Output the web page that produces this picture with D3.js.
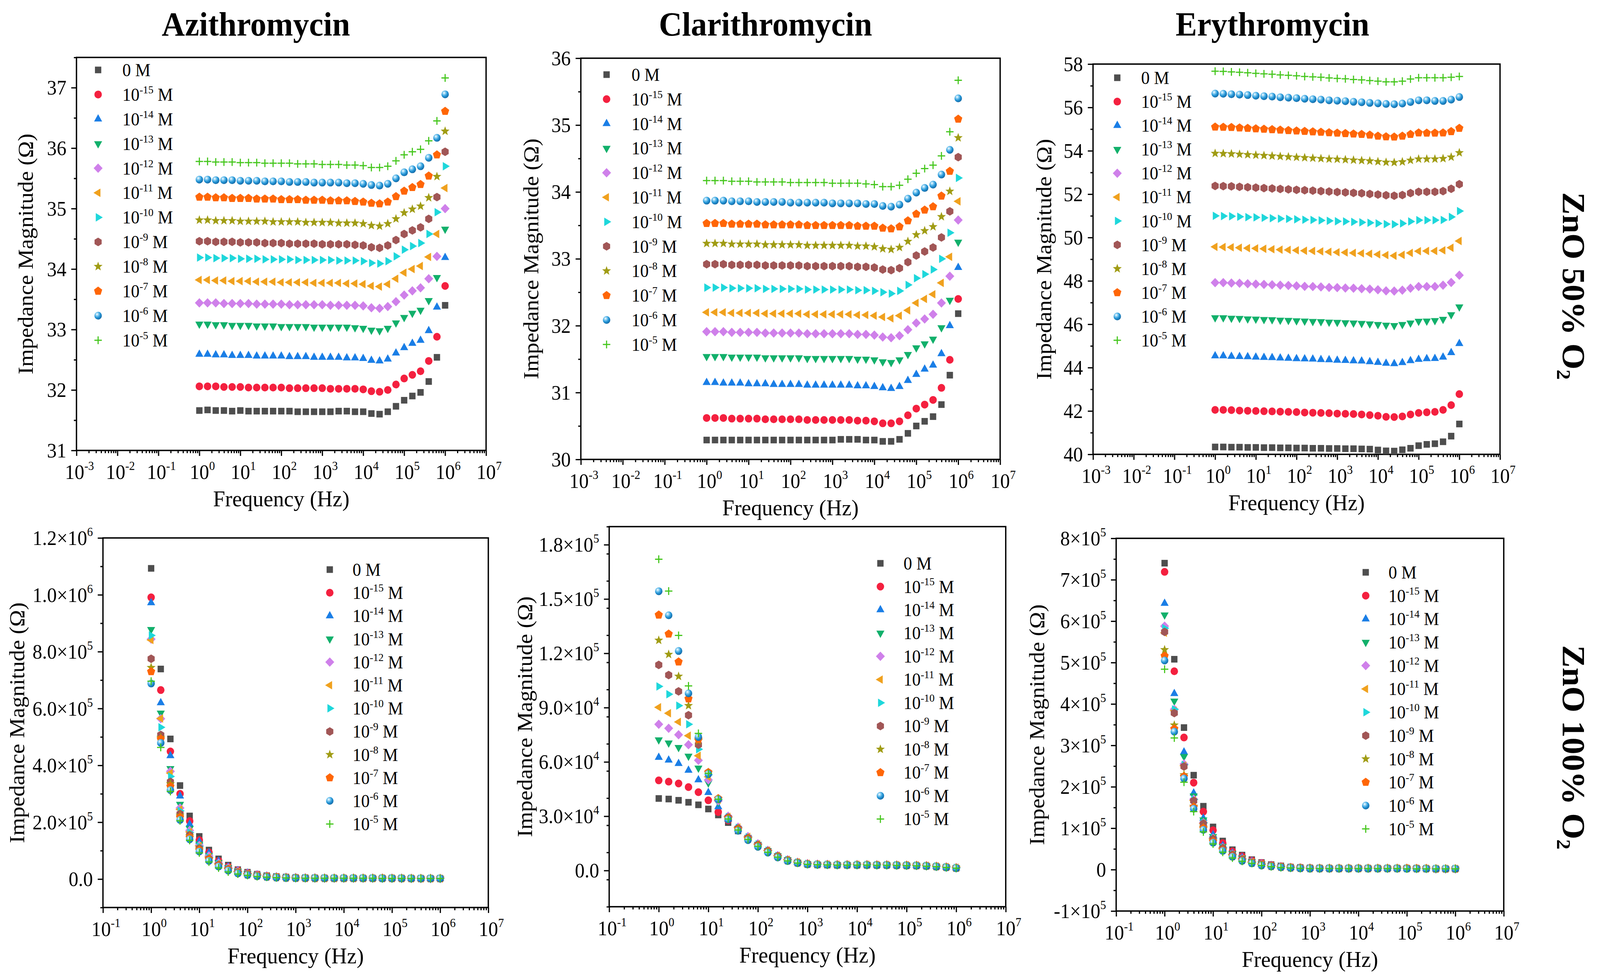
<!DOCTYPE html>
<html><head><meta charset="utf-8">
<script src="https://cdn.jsdelivr.net/npm/d3@7/dist/d3.min.js"></script>
<style>
html,body{margin:0;padding:0;background:#fff;overflow:hidden;width:100%;height:100%}
svg{display:block;width:100vw;height:100vh}
text{font-family:"Liberation Serif","Times New Roman",serif;fill:#000}
</style></head>
<body>
<svg id="chart" viewBox="0 0 4289 2506" preserveAspectRatio="none"></svg>
<script>
// ---------------- DATA ----------------
const freq = [1,1.585,2.512,3.981,6.31,10,15.85,25.12,39.81,63.1,100,158.5,251.2,398.1,631,1000,1585,2512,3981,6310,10000,15850,25120,39810,63100,100000,158500,251200,398100,631000,1000000];

// concentration labels: base + superscript exponent + " M"
const concBase = ["0","10","10","10","10","10","10","10","10","10","10","10"];
const concExp  = ["","-15","-14","-13","-12","-11","-10","-9","-8","-7","-6","-5"];

// Azithromycin, ZnO 50% O2 (Ohm)
const azi50 = [
[31.66,31.67,31.66,31.66,31.65,31.66,31.65,31.65,31.65,31.65,31.65,31.65,31.64,31.64,31.64,31.64,31.64,31.65,31.65,31.64,31.64,31.61,31.60,31.64,31.73,31.83,31.90,31.96,32.14,32.54,33.40],
[32.06,32.06,32.06,32.05,32.05,32.05,32.04,32.04,32.04,32.04,32.04,32.03,32.03,32.03,32.03,32.03,32.02,32.02,32.02,32.02,32.01,31.98,31.97,32.00,32.09,32.19,32.25,32.31,32.48,32.88,33.72],
[32.59,32.59,32.58,32.58,32.57,32.57,32.57,32.56,32.56,32.56,32.56,32.55,32.55,32.55,32.54,32.54,32.54,32.54,32.53,32.53,32.52,32.49,32.48,32.51,32.61,32.70,32.77,32.82,32.98,33.37,34.19],
[33.09,33.09,33.08,33.08,33.07,33.07,33.07,33.06,33.06,33.06,33.05,33.05,33.05,33.05,33.04,33.04,33.04,33.04,33.04,33.03,33.02,32.99,32.98,33.02,33.11,33.20,33.27,33.32,33.48,33.86,34.66],
[33.44,33.44,33.44,33.43,33.43,33.43,33.43,33.42,33.42,33.42,33.42,33.41,33.41,33.41,33.41,33.41,33.40,33.40,33.40,33.40,33.39,33.36,33.35,33.38,33.46,33.57,33.64,33.69,33.84,34.21,35.00],
[33.82,33.82,33.81,33.81,33.80,33.80,33.80,33.79,33.79,33.79,33.78,33.78,33.78,33.78,33.77,33.77,33.77,33.77,33.76,33.76,33.75,33.72,33.71,33.75,33.84,33.94,34.00,34.05,34.20,34.58,35.34],
[34.19,34.19,34.18,34.18,34.18,34.17,34.17,34.17,34.16,34.16,34.16,34.16,34.15,34.15,34.15,34.15,34.15,34.14,34.14,34.14,34.13,34.10,34.09,34.13,34.21,34.32,34.38,34.43,34.58,34.94,35.70],
[34.46,34.46,34.45,34.45,34.45,34.44,34.44,34.44,34.43,34.43,34.43,34.42,34.42,34.42,34.42,34.41,34.41,34.41,34.41,34.40,34.39,34.36,34.35,34.39,34.48,34.58,34.64,34.69,34.83,35.19,35.94],
[34.81,34.81,34.80,34.80,34.80,34.79,34.79,34.79,34.79,34.78,34.78,34.78,34.78,34.77,34.77,34.77,34.77,34.76,34.76,34.76,34.75,34.72,34.71,34.75,34.83,34.93,34.99,35.04,35.18,35.53,36.28],
[35.19,35.19,35.18,35.18,35.17,35.17,35.17,35.16,35.16,35.16,35.15,35.15,35.15,35.14,35.14,35.14,35.13,35.13,35.13,35.12,35.11,35.09,35.08,35.11,35.20,35.29,35.35,35.40,35.54,35.89,36.61],
[35.48,35.48,35.47,35.47,35.47,35.46,35.46,35.46,35.45,35.45,35.45,35.44,35.44,35.44,35.43,35.43,35.43,35.43,35.42,35.42,35.41,35.39,35.38,35.41,35.50,35.60,35.65,35.70,35.84,36.17,36.89],
[35.78,35.78,35.77,35.77,35.77,35.76,35.76,35.76,35.75,35.75,35.75,35.75,35.74,35.74,35.74,35.73,35.73,35.73,35.72,35.72,35.71,35.68,35.68,35.70,35.79,35.89,35.94,35.98,36.12,36.45,37.16]
];

// Clarithromycin, ZnO 50% O2 (Ohm)
const cla50 = [
[30.29,30.29,30.29,30.29,30.29,30.29,30.29,30.29,30.29,30.29,30.29,30.29,30.29,30.29,30.29,30.29,30.30,30.30,30.30,30.29,30.29,30.27,30.27,30.30,30.39,30.50,30.57,30.64,30.82,31.26,32.18],
[30.62,30.62,30.62,30.61,30.61,30.61,30.61,30.60,30.60,30.60,30.60,30.60,30.59,30.59,30.59,30.59,30.59,30.59,30.58,30.58,30.57,30.54,30.54,30.57,30.66,30.76,30.82,30.89,31.07,31.49,32.40],
[31.15,31.15,31.14,31.14,31.14,31.13,31.13,31.13,31.12,31.12,31.12,31.12,31.11,31.11,31.11,31.11,31.11,31.11,31.10,31.10,31.09,31.07,31.06,31.09,31.18,31.27,31.35,31.41,31.58,32.00,32.87],
[31.54,31.54,31.54,31.53,31.53,31.53,31.53,31.52,31.52,31.52,31.52,31.52,31.51,31.51,31.51,31.51,31.51,31.51,31.50,31.50,31.49,31.46,31.45,31.49,31.57,31.67,31.73,31.80,31.97,32.38,33.25],
[31.91,31.91,31.91,31.90,31.90,31.90,31.90,31.89,31.89,31.89,31.89,31.89,31.88,31.88,31.88,31.88,31.88,31.88,31.87,31.87,31.86,31.83,31.82,31.85,31.94,32.04,32.10,32.17,32.34,32.74,33.58],
[32.20,32.20,32.20,32.19,32.19,32.19,32.19,32.18,32.18,32.18,32.18,32.18,32.17,32.17,32.17,32.17,32.17,32.17,32.16,32.16,32.15,32.13,32.11,32.15,32.23,32.34,32.40,32.47,32.64,33.03,33.86],
[32.57,32.57,32.57,32.56,32.56,32.56,32.56,32.55,32.55,32.55,32.55,32.55,32.54,32.54,32.54,32.54,32.54,32.54,32.53,32.53,32.52,32.50,32.48,32.52,32.61,32.71,32.77,32.84,33.00,33.39,34.21],
[32.92,32.92,32.92,32.91,32.91,32.91,32.91,32.90,32.90,32.90,32.90,32.90,32.89,32.89,32.89,32.89,32.89,32.89,32.88,32.88,32.87,32.84,32.83,32.86,32.95,33.05,33.11,33.17,33.32,33.71,34.52],
[33.23,33.23,33.23,33.22,33.22,33.22,33.22,33.21,33.21,33.21,33.21,33.21,33.20,33.20,33.20,33.20,33.20,33.20,33.19,33.19,33.18,33.15,33.14,33.17,33.26,33.36,33.42,33.48,33.63,34.01,34.81],
[33.53,33.53,33.53,33.52,33.52,33.52,33.52,33.51,33.51,33.51,33.51,33.51,33.50,33.50,33.50,33.50,33.50,33.50,33.49,33.49,33.49,33.46,33.45,33.48,33.57,33.67,33.73,33.78,33.94,34.31,35.09],
[33.87,33.87,33.87,33.86,33.86,33.86,33.85,33.85,33.85,33.85,33.84,33.84,33.84,33.84,33.84,33.83,33.83,33.83,33.83,33.82,33.82,33.79,33.78,33.81,33.90,33.99,34.06,34.11,34.26,34.63,35.40],
[34.17,34.17,34.17,34.16,34.16,34.16,34.15,34.15,34.15,34.15,34.14,34.14,34.14,34.14,34.14,34.13,34.13,34.13,34.13,34.12,34.11,34.08,34.08,34.10,34.19,34.28,34.35,34.40,34.54,34.90,35.67]
];

// Erythromycin, ZnO 50% O2 (Ohm)
const ery50 = [
[40.34,40.34,40.33,40.33,40.32,40.32,40.31,40.31,40.30,40.30,40.29,40.29,40.28,40.28,40.27,40.27,40.26,40.26,40.25,40.24,40.20,40.16,40.15,40.21,40.28,40.40,40.46,40.49,40.58,40.84,41.40],
[42.05,42.05,42.04,42.02,42.01,42.00,41.99,41.98,41.97,41.96,41.95,41.93,41.92,41.91,41.90,41.88,41.87,41.86,41.84,41.81,41.78,41.73,41.72,41.75,41.84,41.91,41.94,41.96,42.05,42.27,42.78],
[44.54,44.54,44.52,44.51,44.50,44.48,44.47,44.46,44.44,44.43,44.41,44.40,44.39,44.37,44.36,44.34,44.33,44.31,44.30,44.27,44.24,44.20,44.18,44.23,44.32,44.38,44.41,44.42,44.48,44.69,45.11],
[46.30,46.30,46.28,46.27,46.25,46.24,46.22,46.21,46.19,46.18,46.16,46.15,46.13,46.12,46.10,46.09,46.07,46.06,46.04,46.02,45.99,45.96,45.94,45.99,46.06,46.14,46.15,46.17,46.23,46.44,46.80],
[47.92,47.92,47.90,47.89,47.87,47.85,47.84,47.82,47.80,47.79,47.77,47.75,47.74,47.72,47.70,47.69,47.67,47.66,47.64,47.62,47.59,47.54,47.53,47.57,47.66,47.74,47.74,47.74,47.80,47.93,48.26],
[49.57,49.56,49.55,49.53,49.51,49.50,49.48,49.46,49.44,49.43,49.41,49.39,49.38,49.36,49.34,49.32,49.31,49.29,49.27,49.25,49.22,49.19,49.16,49.20,49.29,49.37,49.38,49.38,49.41,49.53,49.84],
[51.00,50.99,50.98,50.96,50.94,50.93,50.91,50.89,50.87,50.86,50.84,50.82,50.81,50.79,50.77,50.75,50.74,50.72,50.70,50.68,50.65,50.62,50.61,50.65,50.74,50.80,50.80,50.80,50.81,50.95,51.22],
[52.38,52.37,52.36,52.34,52.32,52.30,52.28,52.26,52.24,52.22,52.20,52.18,52.16,52.14,52.12,52.10,52.08,52.06,52.04,52.01,51.98,51.95,51.93,51.96,52.05,52.11,52.11,52.11,52.14,52.25,52.46],
[53.88,53.87,53.86,53.84,53.82,53.80,53.78,53.76,53.74,53.72,53.70,53.68,53.66,53.64,53.62,53.61,53.59,53.57,53.55,53.53,53.50,53.47,53.46,53.49,53.56,53.62,53.62,53.62,53.64,53.71,53.91],
[55.10,55.09,55.08,55.06,55.04,55.02,55.00,54.98,54.96,54.94,54.92,54.90,54.88,54.86,54.84,54.82,54.80,54.78,54.76,54.73,54.68,54.65,54.64,54.68,54.76,54.83,54.82,54.82,54.83,54.89,55.04],
[56.64,56.63,56.61,56.59,56.57,56.54,56.52,56.50,56.47,56.45,56.43,56.40,56.38,56.36,56.33,56.31,56.29,56.26,56.24,56.21,56.19,56.16,56.15,56.18,56.25,56.33,56.33,56.30,56.30,56.36,56.48],
[57.67,57.66,57.64,57.62,57.60,57.57,57.55,57.53,57.50,57.48,57.46,57.43,57.41,57.39,57.36,57.34,57.32,57.29,57.27,57.24,57.21,57.18,57.18,57.21,57.31,57.37,57.37,57.37,57.37,57.39,57.43]
];

// Azithromycin, ZnO 100% O2 (units of 1e5 Ohm)
const azi100 = [
[10.93,7.39,4.93,3.29,2.22,1.50,1.02,0.71,0.49,0.33,0.24,0.17,0.12,0.09,0.07,0.05,0.045,0.04,0.035,0.03,0.03,0.03,0.03,0.03,0.03,0.03,0.03,0.025,0.02,0.02,0.02],
[9.91,6.65,4.49,3.00,2.04,1.37,0.94,0.64,0.44,0.31,0.22,0.16,0.11,0.08,0.06,0.05,0.04,0.04,0.035,0.03,0.03,0.03,0.03,0.03,0.03,0.03,0.03,0.025,0.02,0.02,0.02],
[9.72,6.20,4.34,2.92,1.93,1.32,0.92,0.63,0.43,0.30,0.21,0.15,0.11,0.08,0.06,0.05,0.04,0.04,0.035,0.03,0.03,0.03,0.03,0.03,0.03,0.03,0.03,0.025,0.02,0.02,0.02],
[8.78,5.84,3.89,2.63,1.78,1.23,0.83,0.58,0.40,0.28,0.20,0.14,0.10,0.07,0.055,0.045,0.04,0.035,0.03,0.03,0.03,0.03,0.03,0.03,0.03,0.03,0.025,0.025,0.02,0.02,0.02],
[8.44,5.64,3.79,2.50,1.71,1.18,0.81,0.56,0.39,0.27,0.19,0.14,0.10,0.07,0.05,0.04,0.04,0.035,0.03,0.03,0.03,0.03,0.03,0.03,0.03,0.03,0.025,0.025,0.02,0.02,0.02],
[8.41,5.65,3.73,2.45,1.66,1.16,0.78,0.54,0.38,0.26,0.18,0.13,0.09,0.07,0.05,0.04,0.035,0.03,0.03,0.03,0.03,0.03,0.03,0.03,0.03,0.03,0.025,0.025,0.02,0.02,0.02],
[8.57,5.34,3.61,2.40,1.64,1.15,0.76,0.53,0.37,0.26,0.18,0.13,0.09,0.07,0.05,0.04,0.035,0.03,0.03,0.03,0.03,0.03,0.03,0.03,0.03,0.03,0.025,0.025,0.02,0.02,0.02],
[7.75,5.07,3.42,2.29,1.55,1.08,0.71,0.50,0.35,0.24,0.17,0.12,0.09,0.06,0.05,0.04,0.035,0.03,0.03,0.03,0.03,0.03,0.03,0.03,0.03,0.025,0.025,0.02,0.02,0.02,0.02],
[7.44,4.98,3.35,2.24,1.52,1.06,0.71,0.49,0.34,0.23,0.16,0.12,0.08,0.06,0.045,0.035,0.03,0.03,0.03,0.03,0.03,0.03,0.03,0.03,0.03,0.025,0.025,0.02,0.02,0.02,0.02],
[7.30,4.93,3.26,2.18,1.47,1.02,0.69,0.47,0.33,0.22,0.15,0.11,0.08,0.06,0.045,0.035,0.03,0.03,0.03,0.03,0.03,0.03,0.03,0.03,0.03,0.025,0.025,0.02,0.02,0.02,0.02],
[6.88,4.79,3.13,2.08,1.40,0.97,0.64,0.44,0.30,0.20,0.14,0.10,0.07,0.05,0.04,0.03,0.03,0.03,0.03,0.03,0.03,0.03,0.03,0.03,0.025,0.025,0.025,0.02,0.02,0.02,0.02],
[6.96,4.63,3.08,2.05,1.36,0.92,0.60,0.39,0.25,0.18,0.13,0.09,0.07,0.05,0.04,0.03,0.03,0.03,0.03,0.03,0.03,0.03,0.03,0.03,0.025,0.025,0.025,0.02,0.02,0.02,0.02]
];

// Clarithromycin, ZnO 100% O2 (units of 1e4 Ohm)
const cla100 = [
[3.98,3.95,3.88,3.77,3.63,3.40,3.07,2.65,2.19,1.73,1.38,1.06,0.78,0.56,0.43,0.35,0.32,0.31,0.30,0.30,0.30,0.30,0.30,0.30,0.29,0.28,0.27,0.25,0.22,0.18,0.13],
[4.98,4.91,4.81,4.61,4.33,3.88,3.23,2.77,2.24,1.76,1.38,1.05,0.78,0.56,0.43,0.36,0.33,0.32,0.31,0.31,0.31,0.31,0.31,0.30,0.29,0.28,0.27,0.25,0.22,0.18,0.14],
[6.25,6.10,5.91,5.54,5.01,4.31,3.52,2.85,2.30,1.80,1.42,1.08,0.80,0.58,0.45,0.37,0.34,0.33,0.32,0.32,0.32,0.32,0.31,0.31,0.30,0.29,0.28,0.26,0.23,0.19,0.15],
[7.22,7.05,6.80,6.32,5.66,4.84,3.77,2.90,2.33,1.83,1.45,1.10,0.81,0.59,0.45,0.37,0.34,0.33,0.32,0.32,0.32,0.32,0.31,0.31,0.30,0.29,0.28,0.26,0.23,0.19,0.15],
[8.08,7.86,7.50,6.95,6.09,5.01,3.85,3.00,2.40,1.88,1.48,1.12,0.83,0.60,0.46,0.38,0.35,0.34,0.33,0.33,0.33,0.33,0.32,0.32,0.31,0.30,0.29,0.27,0.24,0.20,0.16],
[9.02,8.69,8.21,7.45,6.34,5.18,3.90,2.97,2.38,1.86,1.46,1.11,0.82,0.60,0.46,0.38,0.35,0.34,0.33,0.33,0.33,0.33,0.32,0.32,0.31,0.30,0.29,0.27,0.24,0.20,0.16],
[10.17,9.74,9.11,8.08,6.70,5.29,3.93,2.95,2.36,1.84,1.45,1.10,0.81,0.59,0.45,0.37,0.34,0.33,0.32,0.32,0.32,0.32,0.31,0.31,0.30,0.29,0.28,0.26,0.23,0.19,0.15],
[11.36,10.80,9.90,8.58,6.95,5.42,3.96,2.93,2.33,1.80,1.42,1.08,0.79,0.57,0.44,0.36,0.33,0.32,0.31,0.31,0.31,0.31,0.30,0.30,0.29,0.28,0.27,0.25,0.22,0.18,0.14],
[12.72,11.94,10.73,9.11,7.17,5.42,3.96,2.90,2.30,1.77,1.39,1.05,0.77,0.55,0.43,0.35,0.33,0.32,0.31,0.31,0.31,0.31,0.30,0.30,0.29,0.28,0.27,0.25,0.22,0.18,0.14],
[14.12,13.07,11.53,9.49,7.25,5.42,3.98,2.88,2.27,1.74,1.36,1.03,0.75,0.54,0.42,0.35,0.33,0.32,0.31,0.31,0.31,0.31,0.30,0.30,0.29,0.28,0.27,0.25,0.22,0.18,0.14],
[15.43,14.10,12.13,9.79,7.38,5.33,3.93,2.82,2.20,1.68,1.31,0.99,0.72,0.52,0.41,0.34,0.32,0.31,0.30,0.30,0.30,0.30,0.29,0.29,0.28,0.27,0.26,0.24,0.21,0.17,0.13],
[17.20,15.44,12.99,10.20,7.58,5.37,3.94,2.85,2.24,1.72,1.34,1.01,0.74,0.53,0.41,0.34,0.32,0.31,0.30,0.30,0.30,0.30,0.29,0.29,0.28,0.27,0.26,0.24,0.21,0.17,0.13]
];

// Erythromycin, ZnO 100% O2 (units of 1e5 Ohm)
const ery100 = [
[7.40,5.08,3.43,2.28,1.53,1.03,0.69,0.48,0.35,0.24,0.17,0.12,0.09,0.06,0.05,0.04,0.035,0.03,0.03,0.03,0.03,0.03,0.03,0.03,0.03,0.03,0.03,0.025,0.02,0.02,0.02],
[7.19,4.79,3.19,2.10,1.40,0.95,0.64,0.44,0.32,0.22,0.16,0.11,0.08,0.06,0.05,0.04,0.035,0.03,0.03,0.03,0.03,0.03,0.03,0.03,0.03,0.03,0.03,0.025,0.02,0.02,0.02],
[6.43,4.25,2.84,1.85,1.24,0.84,0.58,0.40,0.29,0.20,0.14,0.10,0.07,0.05,0.04,0.035,0.03,0.03,0.03,0.03,0.03,0.03,0.03,0.03,0.03,0.03,0.025,0.025,0.02,0.02,0.02],
[6.15,4.07,2.73,1.78,1.20,0.80,0.56,0.39,0.28,0.19,0.14,0.10,0.07,0.05,0.04,0.035,0.03,0.03,0.03,0.03,0.03,0.03,0.03,0.03,0.03,0.03,0.025,0.025,0.02,0.02,0.02],
[5.88,3.87,2.55,1.70,1.13,0.76,0.53,0.37,0.26,0.18,0.13,0.09,0.07,0.05,0.04,0.03,0.03,0.03,0.03,0.03,0.03,0.03,0.03,0.03,0.03,0.03,0.025,0.025,0.02,0.02,0.02],
[5.72,3.84,2.51,1.67,1.11,0.75,0.52,0.36,0.26,0.18,0.13,0.09,0.065,0.05,0.04,0.03,0.03,0.03,0.03,0.03,0.03,0.03,0.03,0.03,0.03,0.03,0.025,0.025,0.02,0.02,0.02],
[5.83,3.87,2.53,1.69,1.13,0.76,0.53,0.37,0.26,0.18,0.13,0.09,0.07,0.05,0.04,0.03,0.03,0.03,0.03,0.03,0.03,0.03,0.03,0.03,0.03,0.03,0.025,0.025,0.02,0.02,0.02],
[5.74,3.78,2.49,1.66,1.11,0.74,0.52,0.36,0.25,0.17,0.12,0.09,0.065,0.05,0.04,0.03,0.03,0.03,0.03,0.03,0.03,0.03,0.03,0.03,0.03,0.03,0.025,0.025,0.02,0.02,0.02],
[5.31,3.49,2.29,1.53,1.02,0.69,0.48,0.33,0.23,0.16,0.11,0.08,0.06,0.045,0.035,0.03,0.03,0.03,0.03,0.03,0.03,0.03,0.03,0.03,0.03,0.03,0.025,0.025,0.02,0.02,0.02],
[5.16,3.40,2.25,1.51,1.00,0.68,0.47,0.32,0.22,0.16,0.11,0.08,0.06,0.045,0.035,0.03,0.03,0.03,0.03,0.03,0.03,0.03,0.03,0.03,0.03,0.03,0.025,0.025,0.02,0.02,0.02],
[5.05,3.33,2.20,1.47,0.96,0.65,0.45,0.31,0.21,0.15,0.10,0.075,0.055,0.04,0.03,0.025,0.025,0.025,0.025,0.025,0.025,0.025,0.025,0.025,0.025,0.02,0.02,0.02,0.02,0.02,0.02],
[4.84,3.18,2.11,1.40,0.91,0.62,0.42,0.28,0.20,0.15,0.10,0.07,0.05,0.04,0.03,0.025,0.025,0.025,0.025,0.025,0.025,0.025,0.025,0.025,0.025,0.02,0.02,0.02,0.02,0.02,0.02]
];

// tick labels
const topXExps = ["-3","-2","-1","0","1","2","3","4","5","6","7"];
const botXExps = ["-1","0","1","2","3","4","5","6","7"];
const azi50Ticks = [31,32,33,34,35,36,37];
const azi50Labels = [["31",""],["32",""],["33",""],["34",""],["35",""],["36",""],["37",""]];
const cla50Ticks = [30,31,32,33,34,35,36];
const cla50Labels = [["30",""],["31",""],["32",""],["33",""],["34",""],["35",""],["36",""]];
const ery50Ticks = [40,42,44,46,48,50,52,54,56,58];
const ery50Labels = [["40",""],["42",""],["44",""],["46",""],["48",""],["50",""],["52",""],["54",""],["56",""],["58",""]];
const azi100Ticks = [0,2,4,6,8,10,12];
const azi100Labels = [["0.0",""],["2.0×10","5"],["4.0×10","5"],["6.0×10","5"],["8.0×10","5"],["1.0×10","6"],["1.2×10","6"]];
const cla100Ticks = [0,3,6,9,12,15,18];
const cla100Labels = [["0.0",""],["3.0×10","4"],["6.0×10","4"],["9.0×10","4"],["1.2×10","5"],["1.5×10","5"],["1.8×10","5"]];
const ery100Ticks = [-1,0,1,2,3,4,5,6,7,8];
const ery100Labels = [["-1×10","5"],["0",""],["1×10","5"],["2×10","5"],["3×10","5"],["4×10","5"],["5×10","5"],["6×10","5"],["7×10","5"],["8×10","5"]];

// ---------------- STYLE / LAYOUT ----------------
const colors = ["#4e4e4e","#f4203f","#1a7ee6","#12b06b","#cf80ea","#f0a11e","#1ed7db","#a15656","#a09c14","#ff6606","#2495d6","#44c61c"];
const shapes = ["square","circle","triUp","triDown","diamond","triLeft","triRight","hexagon","star","pentagon","sphere","plus"];

const panels = [
 {data:azi50, x0:205, x1:1303, y0:147, y1:1153, xdom:[1e-3,1e7], xexps:topXExps, ydom:[31,37.5], yt:azi50Ticks, yl:azi50Labels, ymStep:0.5, leg:[263,328,179,62.9], ylabX:88},
 {data:cla50, x0:1557, x1:2681, y0:149, y1:1176, xdom:[1e-3,1e7], xexps:topXExps, ydom:[30,36], yt:cla50Ticks, yl:cla50Labels, ymStep:0.5, leg:[1626,1693,191,62.8], ylabX:1443},
 {data:ery50, x0:2930, x1:4021, y0:164, y1:1163, xdom:[1e-3,1e7], xexps:topXExps, ydom:[40,58], yt:ery50Ticks, yl:ery50Labels, ymStep:1, leg:[2995,3059,199,61.1], ylabX:2818},
 {data:azi100, x0:276, x1:1309, y0:1377, y1:2323, xdom:[1e-1,1e7], xexps:botXExps, ydom:[-1,12], yt:azi100Ticks, yl:azi100Labels, ymStep:1, leg:[884,945,1458,59.2], ylabX:65},
 {data:cla100, x0:1633, x1:2696, y0:1348, y1:2321, xdom:[1e-1,1e7], xexps:botXExps, ydom:[-2,19], yt:cla100Ticks, yl:cla100Labels, ymStep:1.5, leg:[2360,2422,1442,59.5], ylabX:1426},
 {data:ery100, x0:2992, x1:4031, y0:1378, y1:2332, xdom:[1e-1,1e7], xexps:botXExps, ydom:[-1,8], yt:ery100Ticks, yl:ery100Labels, ymStep:0.5, leg:[3661,3722,1465,59.7], ylabX:2799}
];

const titles = [["Azithromycin",686],["Clarithromycin",2052],["Erythromycin",3411]];

const svg = d3.select("#chart");
const defs = svg.append("defs");
const grad = defs.append("radialGradient").attr("id","sph").attr("cx","0.36").attr("cy","0.32").attr("r","0.7");
grad.append("stop").attr("offset","0").attr("stop-color","#ffffff");
grad.append("stop").attr("offset","0.28").attr("stop-color","#86cdf2");
grad.append("stop").attr("offset","0.62").attr("stop-color","#2495d6");
grad.append("stop").attr("offset","1").attr("stop-color","#156aa6");

function poly(n, R, rot){
  const pts=[];
  for(let k=0;k<n;k++){const a=(rot+k*360/n)*Math.PI/180; pts.push([R*Math.sin(a), -R*Math.cos(a)]);}
  return "M"+pts.map(p=>p[0].toFixed(2)+","+p[1].toFixed(2)).join("L")+"Z";
}
function starPath(Ro, Ri){
  const pts=[];
  for(let k=0;k<10;k++){const R=k%2?Ri:Ro; const a=k*36*Math.PI/180; pts.push([R*Math.sin(a), -R*Math.cos(a)]);}
  return "M"+pts.map(p=>p[0].toFixed(2)+","+p[1].toFixed(2)).join("L")+"Z";
}
function drawMarker(g, shape, color, cx, cy){
  const t = `translate(${cx},${cy})`;
  if(shape==="circle"){ g.append("circle").attr("cx",cx).attr("cy",cy).attr("r",10).attr("fill",color); return; }
  if(shape==="sphere"){ g.append("circle").attr("cx",cx).attr("cy",cy).attr("r",10).attr("fill","url(#sph)"); return; }
  if(shape==="plus"){ g.append("path").attr("transform",t).attr("d","M-10,0H10M0,-10V10").attr("stroke",color).attr("stroke-width",3).attr("fill","none"); return; }
  let d;
  switch(shape){
    case "square": d=poly(4,12,45); break;
    case "triUp": d=poly(3,12.5,0); break;
    case "triDown": d=poly(3,12.5,180); break;
    case "triLeft": d=poly(3,12.5,-90); break;
    case "triRight": d=poly(3,12.5,90); break;
    case "diamond": d=poly(4,12,0); break;
    case "hexagon": d=poly(6,11,0); break;
    case "pentagon": d=poly(5,11.5,0); break;
    case "star": d=starPath(12.5,5.2); break;
  }
  g.append("path").attr("transform",t).attr("d",d).attr("fill",color);
}

function supLabel(g, x, y, anchor, base, sup, size, supSize, rise, after){
  const t = g.append("text").attr("x",x).attr("y",y).attr("text-anchor",anchor).attr("font-size",size);
  t.append("tspan").text(base);
  if(sup){ t.append("tspan").attr("dy",-rise).attr("font-size",supSize).text(sup); }
  if(after){ t.append("tspan").attr("dy",sup?rise:0).attr("font-size",size).text(after); }
  return t;
}

panels.forEach(p=>{
  const g = svg.append("g");
  const x = d3.scaleLog().domain(p.xdom).range([p.x0,p.x1]);
  const y = d3.scaleLinear().domain(p.ydom).range([p.y1,p.y0]);

  // x ticks
  const e0 = Math.round(Math.log10(p.xdom[0])), e1 = Math.round(Math.log10(p.xdom[1]));
  const majors=[], minors=[];
  for(let e=e0;e<=e1;e++){ majors.push(Math.pow(10,e)); if(e<e1) for(let k=2;k<=9;k++) minors.push(k*Math.pow(10,e)); }
  const ax1 = g.append("g").attr("transform",`translate(0,${p.y1})`)
     .call(d3.axisBottom(x).tickValues(majors).tickSize(14).tickSizeOuter(0).tickFormat(()=>""));
  const ax2 = g.append("g").attr("transform",`translate(0,${p.y1})`)
     .call(d3.axisBottom(x).tickValues(minors).tickSize(7).tickSizeOuter(0).tickFormat(()=>""));
  // y ticks
  const yminors=[];
  for(let v=p.ydom[0]; v<=p.ydom[1]+1e-9; v+=p.ymStep){ const r=Math.round(v*1000)/1000; if(!p.yt.some(t=>Math.abs(t-r)<1e-6)) yminors.push(r); }
  const ay1 = g.append("g").attr("transform",`translate(${p.x0},0)`)
     .call(d3.axisLeft(y).tickValues(p.yt).tickSize(14).tickSizeOuter(0).tickFormat(()=>""));
  const ay2 = g.append("g").attr("transform",`translate(${p.x0},0)`)
     .call(d3.axisLeft(y).tickValues(yminors).tickSize(7).tickSizeOuter(0).tickFormat(()=>""));
  [ax1,ax2,ay1,ay2].forEach(a=>{a.select(".domain").remove(); a.selectAll("line").attr("stroke","#000").attr("stroke-width",3.2);});

  // frame
  g.append("rect").attr("x",p.x0).attr("y",p.y0).attr("width",p.x1-p.x0).attr("height",p.y1-p.y0)
    .attr("fill","none").attr("stroke","#000").attr("stroke-width",3.6);

  // x tick labels
  majors.forEach((m,i)=>{ supLabel(g, x(m)+8, p.y1+73, "middle", "10", p.xexps[i], 52, 31, 23); });
  // y tick labels
  p.yt.forEach((v,i)=>{ supLabel(g, p.x0-27, y(v)+18, "end", p.yl[i][0], p.yl[i][1], 52, 31, 23); });

  // axis titles
  g.append("text").attr("x",(p.x0+p.x1)/2).attr("y",p.y1+143).attr("text-anchor","middle").attr("font-size",58).text("Frequency (Hz)");
  g.append("text").attr("transform",`translate(${p.ylabX},${(p.y0+p.y1)/2}) rotate(-90)`).attr("text-anchor","middle").attr("font-size",58).text("Impedance Magnitude (Ω)");

  // data markers
  p.data.forEach((series,s)=>{
    const sg = g.append("g");
    series.forEach((v,i)=> drawMarker(sg, shapes[s], colors[s], x(freq[i]), y(v)));
  });

  // legend
  const [mx,tx,ly,dy] = p.leg;
  concBase.forEach((b,s)=>{
    const yy = ly + s*dy;
    drawMarker(g, shapes[s], colors[s], mx, yy);
    supLabel(g, tx, yy+16, "start", b, concExp[s], 46, 28, 19, " M");
  });
});

// column titles
titles.forEach(([t,xc])=>{
  svg.append("text").attr("x",xc).attr("y",91).attr("text-anchor","middle").attr("font-size",86).attr("font-weight","bold").text(t);
});

// row labels (rotated)
function rowLabel(txt, cx, cy){
  const t = svg.append("text").attr("transform",`translate(${cx},${cy}) rotate(90)`).attr("text-anchor","middle")
    .attr("font-size",86).attr("font-weight","bold");
  t.append("tspan").text(txt);
  t.append("tspan").attr("dy",16).attr("font-size",52).text("2");
}
rowLabel("ZnO 50% O", 4190, 732);
rowLabel("ZnO 100% O", 4190, 1913);
</script>
</body></html>
